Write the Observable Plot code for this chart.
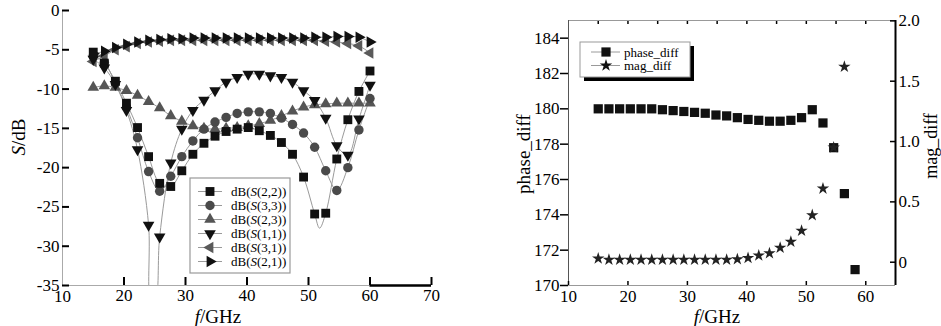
<!DOCTYPE html>
<html><head><meta charset="utf-8">
<script src="https://cdn.jsdelivr.net/npm/d3@7"></script>
<script src="https://cdn.jsdelivr.net/npm/@observablehq/plot@0.6"></script>
<style>
html,body{margin:0;padding:0;background:#fff;}
#wrap{position:relative;width:941px;height:326px;overflow:hidden;font-family:'Liberation Serif','DejaVu Serif',serif;}
#wrap svg{position:absolute;top:0;overflow:visible;}
#wrap svg text{font-family:'Liberation Serif','DejaVu Serif',serif !important;}
</style></head><body><div id="wrap"></div>
<script>
// ---------- left panel data ----------
const freq = [15,16.8,18.6,20.4,22.2,24,25.8,27.6,29.4,31.2,33,34.8,36.6,38.4,40.2,42,43.8,45.6,47.4,49.2,51,52.8,54.6,56.4,58.2,60];
const s22 = [-5.3,-6.7,-9.0,-11.8,-14.9,-18.6,-22.0,-22.4,-20.4,-18.3,-16.9,-16.0,-15.4,-15.1,-14.9,-15.3,-15.9,-16.8,-18.3,-21.2,-25.9,-25.8,-18.9,-13.9,-10.3,-7.7];
const s33 = [-5.8,-6.6,-9.3,-12.3,-16.2,-20.5,-23.0,-21.1,-18.6,-16.6,-15.1,-14.2,-13.6,-13.1,-12.9,-12.9,-13.1,-13.7,-14.5,-15.6,-17.4,-20.4,-22.9,-20.0,-15.2,-11.2];
const s23 = [-9.8,-9.6,-9.8,-10.2,-10.8,-11.6,-12.4,-13.4,-14.1,-14.7,-15.0,-15.1,-15.0,-14.9,-14.7,-14.4,-14.0,-13.4,-12.8,-12.3,-12.0,-11.9,-11.8,-11.8,-11.8,-11.8];
const s11 = [-6.2,-7.3,-9.4,-12.7,-17.7,-27.3,-28.8,-19.4,-15.1,-12.7,-11.4,-10.2,-9.1,-8.5,-8.1,-8.1,-8.3,-8.5,-9.1,-10.2,-11.45,-13.7,-17.2,-18.4,-13.8,-9.5];
const s31 = [-6.5,-5.8,-5.0,-4.6,-4.2,-4.0,-3.9,-3.8,-3.8,-3.8,-3.8,-3.8,-3.8,-3.8,-3.8,-3.8,-3.8,-3.8,-3.8,-3.8,-3.8,-3.9,-4.0,-4.2,-4.5,-5.4];
const s21 = [-5.5,-5.2,-4.7,-4.3,-4.0,-3.8,-3.7,-3.6,-3.6,-3.5,-3.5,-3.5,-3.5,-3.5,-3.5,-3.5,-3.5,-3.5,-3.5,-3.5,-3.4,-3.4,-3.3,-3.3,-3.4,-4.0];
// curve-only points read where the simulated curves pass between markers
const s11CurveF = [24.4, 25.05];
const s11CurveV = [-37, -37];
const s22CurveF = [51.8];
const s22CurveV = [-27.7];
const seriesNames = ["dB(S(2,2))","dB(S(3,3))","dB(S(2,3))","dB(S(1,1))","dB(S(3,1))","dB(S(2,1))"];
const xDomainL = [10, 70];
const yDomainL = [-35, 0];
const xTicksL = [20, 30, 40, 50, 60, 70];
const yTicksL = [0, -5, -10, -15, -20, -25, -30, -35];
const xBlackSeg = [60, 70];

// ---------- right panel data ----------
const phaseFreq = [15,16.8,18.6,20.4,22.2,24,25.8,27.6,29.4,31.2,33,34.8,36.6,38.4,40.2,42,43.8,45.6,47.4,49.2,51,52.8,54.6,56.4,58.2];
const phase = [180.0,180.0,180.0,180.0,180.0,180.0,179.95,179.9,179.85,179.8,179.75,179.65,179.6,179.5,179.4,179.35,179.3,179.3,179.35,179.5,179.95,179.2,177.8,175.2,170.9];
const magFreq = [15,16.8,18.6,20.4,22.2,24,25.8,27.6,29.4,31.2,33,34.8,36.6,38.4,40.2,42,43.8,45.6,47.4,49.2,51,52.8,54.6,56.4];
const mag = [0.03,0.02,0.02,0.02,0.02,0.02,0.02,0.02,0.02,0.02,0.02,0.02,0.02,0.025,0.035,0.055,0.075,0.12,0.17,0.26,0.39,0.61,0.95,1.62];
const xDomainR = [10, 65];
const yDomainR = [170, 185];
const magDomain = [-0.193, 2.003];
const xTicksR = [10, 20, 30, 40, 50, 60];
const xTopTicksR = [15, 20, 25, 30, 35, 40, 45, 50, 55, 60];
const yTicksR = [170, 172, 174, 176, 178, 180, 182, 184];
const magTicks = [0, 0.5, 1.0, 1.5, 2.0];

const serif = "'Liberation Serif','DejaVu Serif',serif";
const plotStyle = `font-family: ${serif}; font-size: 17px; color: #000; background: transparent; overflow: visible;`;
const wrap = document.getElementById("wrap");

// ---------- build left panel ----------
const styleSpec = [
  {name: seriesNames[0], vals: s22, symbol: "square", rotate: 0, fill: "#111", r: 5},
  {name: seriesNames[1], vals: s33, symbol: "circle", rotate: 0, fill: "#4a4a4a", r: 4.7},
  {name: seriesNames[2], vals: s23, symbol: "triangle", rotate: 0, fill: "#555", r: 4.3},
  {name: seriesNames[3], vals: s11, symbol: "triangle", rotate: 180, fill: "#111", r: 4.3},
  {name: seriesNames[4], vals: s31, symbol: "triangle", rotate: -90, fill: "#5a5a5a", r: 4.3},
  {name: seriesNames[5], vals: s21, symbol: "triangle", rotate: 90, fill: "#111", r: 4.3}
];
const lineRows = [];
styleSpec.forEach(s => {
  const pts = freq.map((f, i) => ({f, v: s.vals[i], series: s.name}));
  if (s.name === seriesNames[3]) s11CurveF.forEach((f, i) => pts.push({f, v: s11CurveV[i], series: s.name}));
  if (s.name === seriesNames[0]) s22CurveF.forEach((f, i) => pts.push({f, v: s22CurveV[i], series: s.name}));
  pts.sort((a, b) => a.f - b.f);
  lineRows.push(...pts);
});
const drawOrder = [2, 4, 1, 0, 3, 5];
const dotMarks = drawOrder.map(k => {
  const s = styleSpec[k];
  return Plot.dot(freq.map((f, i) => ({f, v: s.vals[i]})), {
    x: "f", y: "v", symbol: () => s.symbol, fill: s.fill, stroke: "none", r: s.r, rotate: s.rotate
  });
});

const left = Plot.plot({
  width: 440, height: 326,
  marginLeft: 62, marginRight: 9, marginTop: 10, marginBottom: 41,
  style: plotStyle,
  x: {domain: xDomainL},
  y: {domain: yDomainL},
  symbol: {type: "identity"},
  marks: [
    Plot.ruleX([xDomainL[0]], {stroke: "#aaa", strokeWidth: 1}),
    Plot.ruleY([yDomainL[0]], {x1: xDomainL[0], x2: xBlackSeg[0], stroke: "#aaa", strokeWidth: 1}),
    Plot.ruleY([yDomainL[0]], {x1: xBlackSeg[0], x2: xBlackSeg[1], stroke: "#000", strokeWidth: 2.5}),
    Plot.axisY({ticks: yTicksL, tickSize: -7, tickPadding: 10, strokeWidth: 2, label: null, tickFormat: d => String(d)}),
    Plot.axisX({ticks: xTicksL, tickSize: -8, tickPadding: 11, strokeWidth: 2, label: null, tickFormat: d => String(d)}),
    Plot.axisX({ticks: [xDomainL[0]], tickSize: 0, tickPadding: 4, label: null, tickFormat: d => String(d)}),
    Plot.line(lineRows, {x: "f", y: "v", z: "series", stroke: "#9a9a9a", strokeWidth: 1, curve: "catmull-rom", clip: true}),
    ...dotMarks
  ]
});
left.style.left = "0px";
wrap.appendChild(left);

// axis labels & legend (left)
const sl = d3.select(left);
sl.append("text").attr("transform", "translate(18,137) rotate(-90)").attr("text-anchor", "middle")
  .attr("dy", "0.35em").style("font-size", "19px")
  .call(t => { t.append("tspan").attr("font-style", "italic").text("S"); t.append("tspan").text("/dB"); });
sl.append("text").attr("x", 218).attr("y", 316).attr("text-anchor", "middle").attr("dy", "0.35em")
  .style("font-size", "19px")
  .call(t => { t.append("tspan").attr("font-style", "italic").text("f"); t.append("tspan").text("/GHz"); });

const lg = sl.append("g");
lg.append("rect").attr("x", 190).attr("y", 178).attr("width", 100).attr("height", 95)
  .attr("fill", "#fff").attr("stroke", "#999").attr("stroke-width", 1.2);
const symMap = {square: d3.symbolSquare, circle: d3.symbolCircle, triangle: d3.symbolTriangle};
styleSpec.forEach((s, i) => {
  const y = 191.5 + i * 14;
  lg.append("line").attr("x1", 198).attr("x2", 222).attr("y1", y).attr("y2", y).attr("stroke", "#9a9a9a");
  lg.append("path").attr("d", d3.symbol(symMap[s.symbol], Math.PI * s.r * s.r)())
    .attr("transform", `translate(210,${y}) rotate(${s.rotate})`).attr("fill", s.fill);
  const m = s.name.match(/^dB\(S(.*)\)$/);
  lg.append("text").attr("x", 231).attr("y", y).attr("dy", "0.35em").attr("text-anchor", "start")
    .style("font-size", "13px")
    .call(t => { t.append("tspan").text("dB("); t.append("tspan").attr("font-style", "italic").text("S"); t.append("tspan").text(m[1] + ")"); });
});

// ---------- build right panel ----------
const rightW = 461, rightLeft = 480;
const commonR = {
  width: rightW, height: 326, marginLeft: 88, marginRight: 46, marginTop: 20, marginBottom: 41,
  style: plotStyle
};
const right = Plot.plot({
  ...commonR,
  x: {domain: xDomainR},
  y: {domain: yDomainR},
  marks: [
    Plot.ruleY([yDomainR[1]], {stroke: "#999", strokeWidth: 1}),
    Plot.ruleY([yDomainR[0]], {stroke: "#999", strokeWidth: 1}),
    Plot.ruleX([xDomainR[0]], {stroke: "#555", strokeWidth: 1}),
    Plot.axisY({ticks: yTicksR, tickSize: 8, tickPadding: 1, strokeWidth: 1.5, label: null, tickFormat: d => String(d)}),
    Plot.axisX({ticks: xTicksR, tickSize: -4, tickPadding: 8, strokeWidth: 1.5, label: null, tickFormat: d => String(d)}),
    Plot.axisX({anchor: "top", ticks: xTopTicksR, tickSize: -3, strokeWidth: 1.5, label: null, tickFormat: () => ""}),
    Plot.dot(phaseFreq.map((f, i) => ({f, p: phase[i]})), {x: "f", y: "p", symbol: "square", r: 5.2, fill: "#111", stroke: "none"})
  ]
});
right.style.left = rightLeft + "px";
wrap.appendChild(right);

const magPlot = Plot.plot({
  ...commonR,
  x: {domain: xDomainR, axis: null},
  y: {domain: magDomain},
  marks: [
    Plot.ruleX([xDomainR[1]], {stroke: "#000", strokeWidth: 2}),
    Plot.axisY({anchor: "right", ticks: magTicks, tickSize: -6, tickPadding: 9, strokeWidth: 1.5, label: null,
      tickFormat: d => d === 0 ? "0" : d.toFixed(1)}),
    Plot.dot(magFreq.map((f, i) => ({f, m: mag[i]})), {x: "f", y: "m", symbol: "star", r: 3.9, fill: "#222", stroke: "none"})
  ]
});
magPlot.style.left = rightLeft + "px";
wrap.appendChild(magPlot);

const sr = d3.select(magPlot);
sr.append("text").attr("transform", "translate(43,154) rotate(-90)").attr("text-anchor", "middle")
  .attr("dy", "0.35em").style("font-size", "19px").text("phase_diff");
sr.append("text").attr("transform", "translate(451,146) rotate(-90)").attr("text-anchor", "middle")
  .attr("dy", "0.35em").style("font-size", "18px").text("mag_diff");
sr.append("text").attr("x", 237).attr("y", 316).attr("text-anchor", "middle").attr("dy", "0.35em")
  .style("font-size", "19px")
  .call(t => { t.append("tspan").attr("font-style", "italic").text("f"); t.append("tspan").text("/GHz"); });

const rg = sr.append("g");
rg.append("rect").attr("x", 104).attr("y", 46).attr("width", 110).attr("height", 35).attr("fill", "#000");
rg.append("rect").attr("x", 100).attr("y", 42).attr("width", 110).attr("height", 35)
  .attr("fill", "#fff").attr("stroke", "#999").attr("stroke-width", 1);
[["phase_diff", d3.symbolSquare, 5.2], ["mag_diff", d3.symbolStar, 3.9]].forEach(([name, sym, r], i) => {
  const y = 52 + i * 13.5;
  rg.append("line").attr("x1", 111).attr("x2", 140).attr("y1", y).attr("y2", y).attr("stroke", "#9a9a9a");
  rg.append("path").attr("d", d3.symbol(sym, Math.PI * r * r)()).attr("transform", `translate(126,${y})`).attr("fill", "#111");
  rg.append("text").attr("x", 144).attr("y", y).attr("dy", "0.35em").attr("text-anchor", "start")
    .style("font-size", "13px").text(name);
});
</script>
</body></html>
